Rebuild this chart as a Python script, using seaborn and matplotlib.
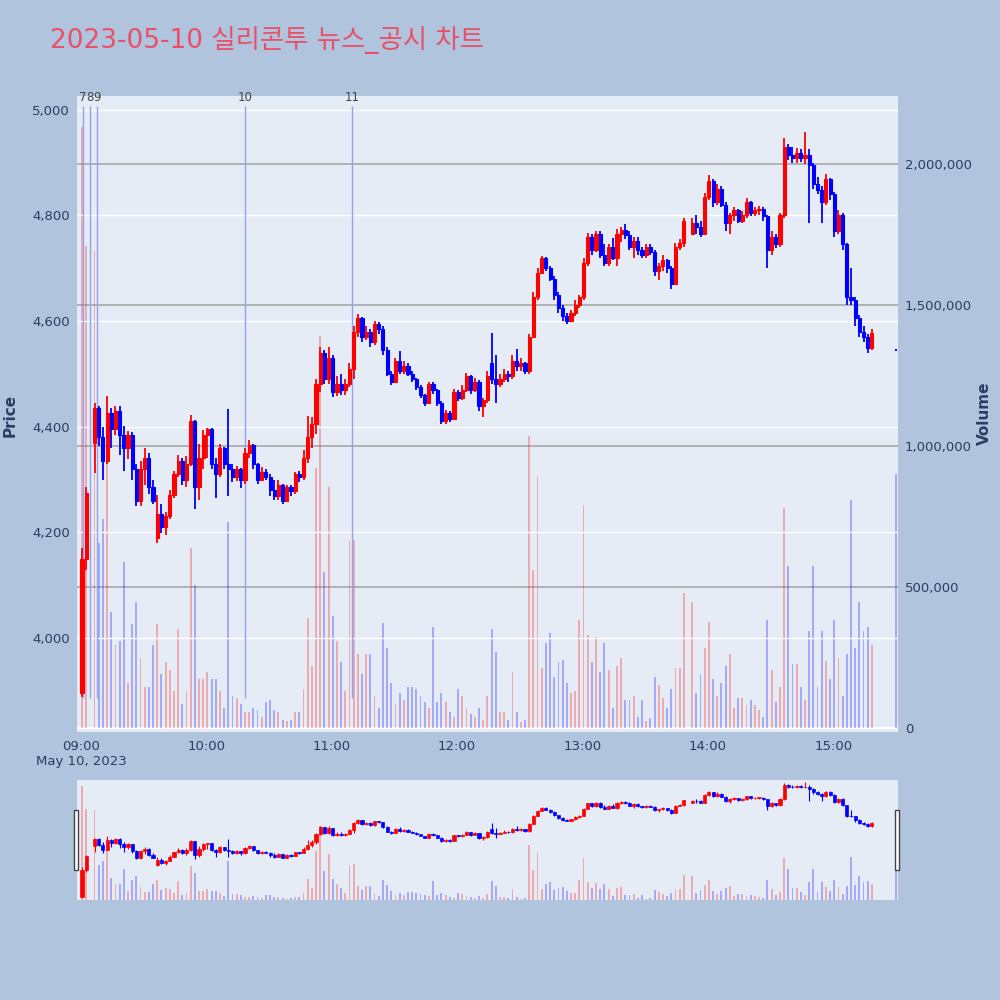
import numpy as np
import pandas as pd
import matplotlib
matplotlib.use("Agg")
import matplotlib.pyplot as plt
from matplotlib.patches import Rectangle
import seaborn as sns

nan = float("nan")

title = "2023-05-10 실리콘투 뉴스_공시 차트"
times = pd.date_range("2023-05-10 09:00", periods=190, freq="2min")

opens = [3895, 4150, nan, 4370, 4435, 4380, 4335, 4425, 4395, 4430,
         4385, 4360, 4385, 4320, 4260, 4320, 4340, 4285, 4190, 4235,
         4210, 4230, 4270, 4310, 4335, 4300, 4330, 4410, 4285, 4340,
         4385, 4395, 4330, 4310, 4360, 4330, 4320, 4305, 4320, 4300,
         4350, 4365, 4330, 4300, 4315, 4305, 4280, 4268, 4290, 4260,
         4285, 4278, 4310, 4305, 4340, 4380, 4405, 4480, 4540, 4490,
         4530, 4465, 4480, 4470, 4480, 4510, 4580, 4605, 4570, 4580,
         4560, 4595, 4585, 4545, 4500, 4485, 4525, 4505, 4515, 4500,
         4490, 4475, 4460, 4445, 4480, 4470, 4445, 4410, 4425, 4415,
         4465, 4455, 4470, 4495, 4470, 4485, 4440, 4450, 4520, 4490,
         4480, 4490, 4500, 4495, 4525, 4515, 4520, 4505, 4570, 4645,
         4690, 4720, 4700, 4680, 4650, 4625, 4610, 4600, 4615, 4630,
         4645, 4710, 4760, 4735, 4765, 4725, 4710, 4740, 4720, 4765,
         4772, 4762, 4740, 4752, 4735, 4725, 4740, 4730, 4695, 4705,
         4715, 4700, 4670, 4740, 4748, nan, 4765, 4785, 4778, 4765,
         4835, 4865, 4825, 4850, 4820, 4785, 4800, 4810, 4790, 4800,
         4825, 4805, 4810, 4812, 4798, 4735, 4760, 4745, 4800, 4930,
         4915, 4908, 4918, 4908, 4915, 4895, 4860, 4848, 4825, 4868,
         4840, 4770, 4800, 4745, 4645, 4640, 4605, 4580, 4570, 4548]

closes = [4150, 4275, nan, 4435, 4380, 4335, 4425, 4395, 4430, 4385,
          4360, 4385, 4320, 4260, 4320, 4340, 4285, 4260, 4235, 4210,
          4230, 4270, 4310, 4335, 4300, 4330, 4410, 4285, 4340, 4385,
          4395, 4330, 4310, 4360, 4330, 4320, 4305, 4320, 4300, 4350,
          4365, 4330, 4300, 4315, 4305, 4280, 4268, 4290, 4260, 4285,
          4278, 4310, 4305, 4340, 4380, 4405, 4480, 4540, 4490, 4530,
          4465, 4480, 4470, 4480, 4510, 4580, 4605, 4570, 4580, 4560,
          4595, 4585, 4545, 4500, 4485, 4525, 4505, 4515, 4500, 4490,
          4475, 4460, 4445, 4480, 4470, 4445, 4410, 4425, 4415, 4465,
          4455, 4470, 4495, 4470, 4485, 4440, 4450, 4495, 4490, 4480,
          4490, 4500, 4495, 4525, 4515, 4520, 4505, 4570, 4645, 4690,
          4720, 4700, 4680, 4650, 4625, 4610, 4600, 4615, 4630, 4645,
          4710, 4760, 4735, 4765, 4725, 4710, 4740, 4720, 4765, 4772,
          4762, 4740, 4752, 4735, 4725, 4740, 4730, 4695, 4705, 4715,
          4700, 4670, 4740, 4748, 4790, nan, 4785, 4778, 4765, 4835,
          4865, 4825, 4850, 4820, 4785, 4800, 4810, 4790, 4800, 4825,
          4805, 4810, 4812, 4798, 4735, 4760, 4745, 4800, 4930, 4915,
          4908, 4918, 4908, 4915, 4895, 4860, 4848, 4825, 4868, 4840,
          4770, 4800, 4745, 4645, 4640, 4605, 4580, 4570, 4548, 4578]

highs = [4170, 4285, nan, 4445, 4440, 4400, 4458, 4435, 4440, 4440,
         4402, 4392, 4390, 4330, 4335, 4360, 4350, 4300, 4270, 4253,
         4238, 4280, 4316, 4347, 4340, 4345, 4422, 4412, 4367, 4394,
         4398, 4398, 4340, 4368, 4362, 4434, 4330, 4326, 4322, 4360,
         4375, 4368, 4332, 4324, 4320, 4310, 4300, 4300, 4292, 4290,
         4290, 4315, 4316, 4355, 4420, 4418, 4490, 4551, 4545, 4551,
         4535, 4496, 4500, 4490, 4520, 4590, 4614, 4608, 4590, 4585,
         4600, 4598, 4590, 4550, 4505, 4530, 4543, 4525, 4520, 4505,
         4492, 4478, 4462, 4485, 4485, 4472, 4448, 4432, 4430, 4472,
         4470, 4478, 4502, 4498, 4492, 4488, 4455, 4505, 4578, 4535,
         4500, 4510, 4505, 4536, 4547, 4530, 4522, 4575, 4655, 4700,
         4724, 4722, 4705, 4685, 4655, 4630, 4615, 4620, 4640, 4650,
         4720, 4767, 4765, 4770, 4770, 4745, 4745, 4758, 4775, 4778,
         4783, 4770, 4760, 4760, 4740, 4745, 4745, 4735, 4710, 4725,
         4718, 4705, 4748, 4755, 4795, nan, 4795, 4800, 4790, 4842,
         4877, 4868, 4860, 4855, 4825, 4805, 4815, 4812, 4808, 4832,
         4828, 4815, 4818, 4815, 4800, 4770, 4765, 4805, 4947, 4935,
         4930, 4928, 4925, 4958, 4925, 4900, 4872, 4855, 4878, 4870,
         4845, 4810, 4805, 4748, 4700, 4645, 4612, 4590, 4575, 4585]

lows = [3888, 4128, nan, 4312, 4363, 4300, 4330, 4360, 4385, 4347,
        4316, 4339, 4300, 4250, 4250, 4289, 4273, 4253, 4179, 4198,
        4195, 4225, 4265, 4305, 4290, 4285, 4325, 4245, 4262, 4320,
        4340, 4320, 4265, 4305, 4320, 4269, 4296, 4298, 4284, 4292,
        4340, 4320, 4292, 4298, 4300, 4269, 4261, 4262, 4253, 4258,
        4269, 4273, 4296, 4300, 4332, 4360, 4387, 4465, 4480, 4480,
        4457, 4458, 4460, 4460, 4475, 4490, 4570, 4560, 4565, 4550,
        4555, 4575, 4535, 4495, 4478, 4483, 4500, 4500, 4495, 4485,
        4470, 4455, 4440, 4442, 4462, 4440, 4406, 4406, 4408, 4412,
        4448, 4450, 4465, 4462, 4465, 4430, 4418, 4445, 4480, 4445,
        4475, 4485, 4485, 4490, 4505, 4505, 4500, 4500, 4570, 4640,
        4690, 4695, 4675, 4640, 4615, 4600, 4595, 4598, 4610, 4625,
        4640, 4705, 4725, 4730, 4720, 4705, 4705, 4715, 4705, 4750,
        4755, 4735, 4720, 4725, 4720, 4720, 4725, 4685, 4677, 4695,
        4690, 4660, 4668, 4735, 4740, nan, 4762, 4765, 4760, 4762,
        4830, 4815, 4820, 4815, 4770, 4765, 4790, 4785, 4785, 4795,
        4798, 4798, 4800, 4790, 4700, 4725, 4738, 4740, 4795, 4905,
        4900, 4900, 4902, 4898, 4786, 4850, 4840, 4786, 4820, 4830,
        4760, 4765, 4735, 4630, 4630, 4590, 4570, 4560, 4540, 4545]

volumes = [2130000, 1710000, 0, 1690000, 655000, 740000, 1000000, 411000, 293000, 308000,
           589000, 160000, 367000, 448000, 248000, 145000, 145000, 293000, 367000, 190000,
           234000, 204000, 130000, 352000, 86000, 130000, 640000, 507000, 175000, 175000,
           197000, 175000, 175000, 130000, 70000, 729000, 115000, 108000, 86000, 56000,
           56000, 70000, 65000, 40000, 93000, 100000, 63000, 56000, 30000, 26000,
           30000, 56000, 56000, 137000, 389000, 220000, 921000, 1390000, 552000, 855000,
           396000, 308000, 234000, 130000, 663000, 666000, 263000, 190000, 263000, 263000,
           115000, 70000, 374000, 285000, 160000, 86000, 123000, 100000, 145000, 145000,
           137000, 115000, 93000, 70000, 359000, 93000, 123000, 93000, 56000, 40000,
           137000, 115000, 70000, 50000, 40000, 70000, 30000, 115000, 352000, 270000,
           56000, 56000, 30000, 197000, 56000, 20000, 30000, 1035000, 559000, 892000,
           211000, 300000, 337000, 182000, 234000, 241000, 160000, 123000, 130000, 382000,
           791000, 330000, 234000, 322000, 197000, 300000, 204000, 70000, 219000, 248000,
           100000, 100000, 115000, 40000, 100000, 25000, 35000, 182000, 152000, 108000,
           70000, 137000, 211000, 211000, 478000, 0, 448000, 123000, 190000, 285000,
           377000, 175000, 115000, 160000, 219000, 263000, 70000, 108000, 108000, 80000,
           100000, 80000, 65000, 40000, 382000, 204000, 93000, 145000, 781000, 574000,
           226000, 226000, 145000, 100000, 345000, 574000, 145000, 345000, 237000, 175000,
           382000, 248000, 115000, 263000, 810000, 285000, 448000, 345000, 359000, 293000]

close_auction_time = pd.Timestamp("2023-05-10 15:30")
close_auction_price = 4545
close_auction_volume = 900000

news_times = pd.to_datetime(["2023-05-10 09:00:50", "2023-05-10 09:04:20",
                             "2023-05-10 09:07:30", "2023-05-10 10:18:35",
                             "2023-05-10 11:09:40"])
news_labels = ["7", "8", "9", "10", "11"]

price_ticks = [4000, 4200, 4400, 4600, 4800, 5000]
volume_ticks = [0, 500000, 1000000, 1500000, 2000000]
hour_ticks = ["09:00", "10:00", "11:00", "12:00", "13:00", "14:00", "15:00"]
date_label = "May 10, 2023"

# ---------------------------------------------------------------- style
sns.set_theme(style="white")
plt.rcParams['font.family'] = ['DejaVu Sans']
BG = '#B0C4DE'
PLOT_BG = '#E5ECF6'
TXT = '#2a3f5f'
UP = '#FF0000'
DOWN = '#0000FF'

t0 = pd.Timestamp("2023-05-10 09:00")
df = pd.DataFrame({"time": times, "open": opens, "high": highs, "low": lows,
                   "close": closes, "volume": volumes})
df["x"] = (df["time"] - t0).dt.total_seconds() / 60 + 0.5
df["up"] = df["close"] >= df["open"]
df["color"] = np.where(df["up"], UP, DOWN)
cx = (close_auction_time - t0).total_seconds() / 60
news_x = (news_times - t0).total_seconds() / 60
hour_x = [(pd.Timestamp("2023-05-10 " + h) - t0).total_seconds() / 60 for h in hour_ticks]
XLIM = (-1.9, 391.0)


def draw_candles(ax, d, body_w, wick_lw, edge_lw, min_body):
    d = d.dropna(subset=["open", "close"])
    ax.vlines(d["x"], d["low"], d["high"], colors=d["color"], lw=wick_lw, zorder=3)
    body = (d["close"] - d["open"]).abs().clip(lower=min_body)
    bottom = d[["open", "close"]].min(axis=1)
    ax.bar(d["x"], body, bottom=bottom, width=body_w, color=d["color"],
           edgecolor=d["color"], linewidth=edge_lw, zorder=4)


fig = plt.figure(figsize=(10, 10), dpi=100, facecolor=BG)
rect = [0.077, 0.268, 0.821, 0.636]

# volume (bottom layer, right axis)
ax_v = fig.add_axes(rect, facecolor=PLOT_BG)
ax_v.bar(df["x"], df["volume"], width=0.9, color=df["color"], alpha=0.28, linewidth=0, zorder=2)
ax_v.bar([cx], [close_auction_volume], width=0.6, color=DOWN, alpha=0.28, linewidth=0, zorder=2)
ax_v.set_xlim(*XLIM)
ax_v.set_ylim(-14200, 2241000)
ax_v.yaxis.tick_right()
ax_v.set_yticks(volume_ticks)
ax_v.set_yticklabels([f"{v:,}" for v in volume_ticks])
ax_v.tick_params(axis='y', length=0, pad=5, labelsize=9.5, labelcolor=TXT)
ax_v.set_xticks([])
ax_v.yaxis.grid(True, color='#A8A8A8', lw=1.2, zorder=1)
ax_v.set_axisbelow(True)
ax_v.axhline(0, color='white', lw=1.5, zorder=1)
for s in ax_v.spines.values():
    s.set_visible(False)

# price (top layer, left axis)
ax = fig.add_axes(rect, facecolor='none')
ax.set_xlim(*XLIM)
ax.set_ylim(3822, 5026)
ax.set_yticks(price_ticks)
ax.set_yticklabels([f"{v:,}" for v in price_ticks])
ax.yaxis.grid(True, color='white', lw=1.0, zorder=0)
ax.set_axisbelow(True)
ax.set_xticks(hour_x)
ax.set_xticklabels([hour_ticks[0] + "\n" + date_label] + hour_ticks[1:])
ax.tick_params(axis='both', length=0, labelsize=9.5, labelcolor=TXT)
ax.tick_params(axis='y', pad=5)
ax.tick_params(axis='x', pad=6)
for s in ax.spines.values():
    s.set_visible(False)

ax.vlines(news_x, 3886, 5008, color='#8FA3F0', lw=1, zorder=2)
for nx, lab in zip(news_x, news_labels):
    ax.text(nx, 0.998, lab, transform=ax.get_xaxis_transform(), ha='center',
            va='center', fontsize=8.5, color='#444444', clip_on=False)

draw_candles(ax, df, body_w=1.5, wick_lw=1.3, edge_lw=0.8, min_body=3)
sns.scatterplot(x=[cx], y=[close_auction_price], ax=ax, color=DOWN, marker='s',
                s=3, linewidth=0, zorder=5, legend=False)
ax.set_xlabel("")
ax.set_ylabel("")

# ------------------------------------------------------------ range slider
srect = [0.077, 0.10, 0.821, 0.12]
sv = fig.add_axes(srect, facecolor=PLOT_BG)
sv.bar(df["x"], df["volume"], width=0.9, color=df["color"], alpha=0.28, linewidth=0)
sv.bar([cx], [close_auction_volume], width=0.6, color=DOWN, alpha=0.28, linewidth=0)
sv.set_xlim(*XLIM)
sv.set_ylim(0, 2250000)
sv.set_xticks([]); sv.set_yticks([])
for s in sv.spines.values():
    s.set_visible(False)
sp = fig.add_axes(srect, facecolor='none')
draw_candles(sp, df, body_w=1.5, wick_lw=0.8, edge_lw=0.5, min_body=4)
sp.set_xlim(*XLIM)
sp.set_ylim(3870, 4975)
sp.set_xticks([]); sp.set_yticks([])
for s in sp.spines.values():
    s.set_visible(False)
for hx in (0.0735, 0.8945):
    fig.patches.append(Rectangle((hx, 0.13), 0.0045, 0.06, transform=fig.transFigure,
                                 facecolor='white', edgecolor='#444444', lw=1))

# ------------------------------------------------------------ texts
fig.text(0.05, 0.960, title, fontsize=19, color='#E9506A', ha='left', va='center',
         family=['DejaVu Sans', 'Noto Sans CJK KR'])
fig.text(0.010, 0.585, "Price", rotation=90, fontsize=11, fontweight='bold',
         color=TXT, ha='center', va='center')
fig.text(0.984, 0.587, "Volume", rotation=90, fontsize=11, fontweight='bold',
         color=TXT, ha='center', va='center')

fig.savefig("out.png", dpi=100, facecolor=BG)
